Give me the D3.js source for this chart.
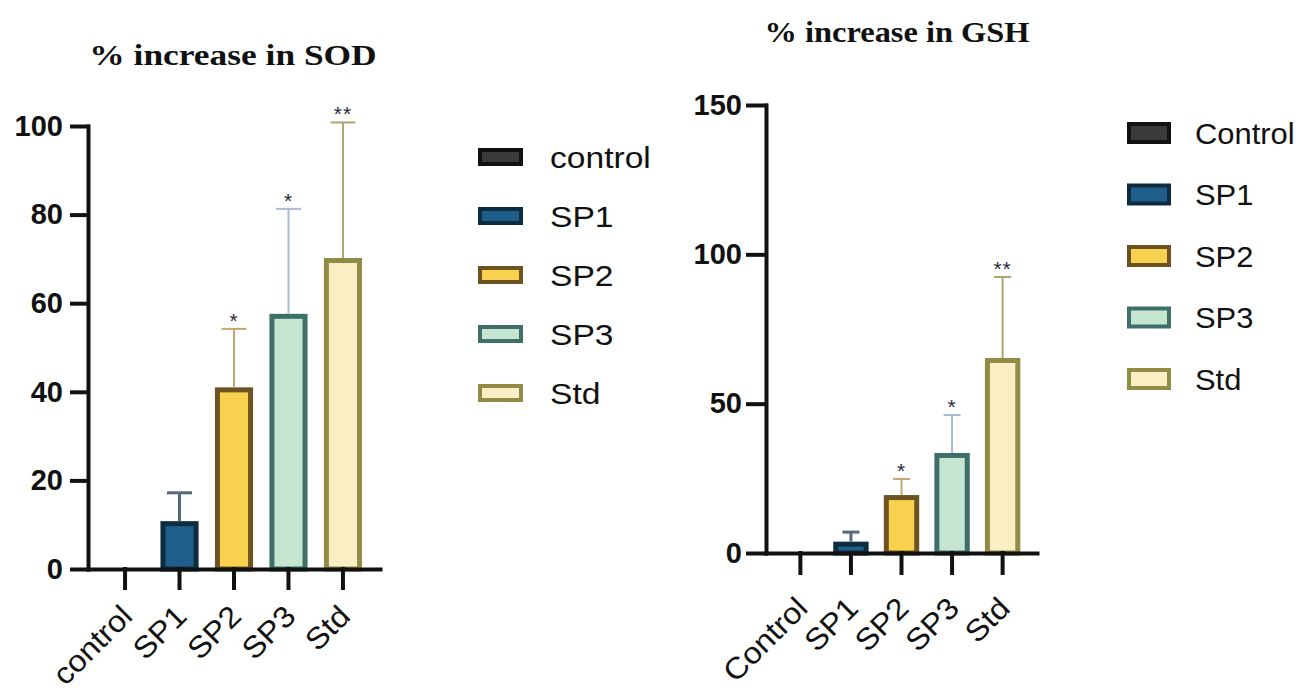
<!DOCTYPE html>
<html>
<head>
<meta charset="utf-8">
<script src="https://cdn.jsdelivr.net/npm/d3@7"></script>
<style>
  body { margin: 0; background: #fff; }
</style>
</head>
<body>
<script>
"use strict";

// values
const sodGroups = ["control", "SP1", "SP2", "SP3", "Std"];
const sodMean = [0, 10.8, 41, 57.6, 70.2];
const sodErr = [0, 6.4, 13.2, 23.7, 30.6];
const sodStars = ["", "", "*", "*", "**"];
const sodTicks = [0, 20, 40, 60, 80, 100];

const gshGroups = ["Control", "SP1", "SP2", "SP3", "Std"];
const gshMean = [0, 3.8, 19.4, 33.5, 65.3];
const gshErr = [0, 3.2, 5.4, 12.7, 27.1];
const gshStars = ["", "", "*", "*", "**"];
const gshTicks = [0, 50, 100, 150];

const fills = ["#3a3a3a", "#1f5e8a", "#f8d14f", "#c6e5d0", "#f9eec4"];
const strokes = ["#111111", "#0e2c40", "#6e5322", "#3f6f69", "#908b45"];
const whiskers = ["#444444", "#55687c", "#c3a774", "#a9bdd2", "#aca66c"];

const sans = "'Liberation Sans', Arial, sans-serif";
const serif = "'Liberation Serif', 'Times New Roman', serif";

const m = { width: 1302, height: 692 };

const svg = d3
  .select("body")
  .append("svg")
  .attr("width", m.width)
  .attr("height", m.height)
  .style("font-family", sans);

function panel(groups, mean, err, stars, ticks, p) {
  const g = svg.append("g");
  const rows = groups.map((k, i) => ({
    k: k, v: mean[i], e: err[i], s: stars[i], i: i
  }));

  const x = d3
    .scaleBand()
    .domain(groups)
    .range([p.x0, p.x1])
    .paddingInner(0.3)
    .paddingOuter(0.33);

  const y = d3
    .scaleLinear()
    .domain([0, d3.max(ticks)])
    .range([p.y0, p.y1]);

  const sw = 5;

  // bars
  g.selectAll("rect.bar")
    .data(rows.filter(d => d.v > 0))
    .enter()
    .append("rect")
    .attr("class", "bar")
    .attr("x", d => x(d.k) + sw / 2)
    .attr("width", x.bandwidth() - sw)
    .attr("y", d => y(d.v) + sw / 2)
    .attr("height", d => y(0) - y(d.v) - sw / 2)
    .attr("fill", d => fills[d.i])
    .attr("stroke", d => strokes[d.i])
    .attr("stroke-width", sw);

  // upper error bars
  const eb = g
    .selectAll("g.err")
    .data(rows.filter(d => d.e > 0))
    .enter()
    .append("g")
    .attr("stroke", d => whiskers[d.i])
    .attr("stroke-width", d => (d.i === 1 ? 3 : 2));

  eb.append("line")
    .attr("x1", d => x(d.k) + x.bandwidth() / 2)
    .attr("x2", d => x(d.k) + x.bandwidth() / 2)
    .attr("y1", d => y(d.v))
    .attr("y2", d => y(d.v + d.e));

  eb.append("line")
    .attr("x1", d => x(d.k) + x.bandwidth() / 2 - p.capW / 2)
    .attr("x2", d => x(d.k) + x.bandwidth() / 2 + p.capW / 2)
    .attr("y1", d => y(d.v + d.e))
    .attr("y2", d => y(d.v + d.e));

  // significance stars
  g.selectAll("text.star")
    .data(rows.filter(d => d.s))
    .enter()
    .append("text")
    .attr("x", d => x(d.k) + x.bandwidth() / 2)
    .attr("y", d => y(d.v + d.e) - 1)
    .attr("text-anchor", "middle")
    .attr("font-size", 21)
    .attr("letter-spacing", 1)
    .attr("fill", "#2a2a3a")
    .text(d => d.s);

  // axes
  const yAxis = g
    .append("g")
    .attr("transform", `translate(${p.x0},0)`)
    .call(
      d3.axisLeft(y)
        .tickValues(ticks)
        .tickSize(p.tickLen)
        .tickSizeOuter(0)
        .tickPadding(p.tickPad)
    );
  yAxis.selectAll("text")
    .style("font-size", "29px")
    .style("font-weight", "bold")
    .style("font-family", sans)
    .attr("fill", "#111");

  const xAxis = g
    .append("g")
    .attr("transform", `translate(0,${p.y0})`)
    .call(d3.axisBottom(x).tickSize(p.xTickLen).tickSizeOuter(0));
  xAxis.selectAll("text")
    .attr("x", 0)
    .attr("y", 0)
    .attr("dy", 0)
    .attr("text-anchor", "end")
    .attr("transform", `translate(${p.labelOff[0]},${p.labelOff[1]}) rotate(-45) scale(1.08,1)`)
    .style("font-size", "30px")
    .style("font-family", sans)
    .attr("fill", "#111");

  g.selectAll(".domain, .tick line")
    .attr("stroke", "#111")
    .attr("stroke-width", 4)
    .attr("stroke-linecap", "square");

  // title
  g.append("text")
    .attr("transform", `translate(${p.titleX},${p.titleY}) scale(${p.titleSX},1)`)
    .attr("text-anchor", "middle")
    .style("font-family", serif)
    .attr("font-weight", "bold")
    .attr("font-size", 30)
    .attr("fill", "#111")
    .text(p.title);

  // legend
  const lg = g
    .selectAll("g.leg")
    .data(rows)
    .enter()
    .append("g")
    .attr("transform", (d, i) => `translate(0,${p.legY + i * p.legStep})`);

  lg.append("rect")
    .attr("x", p.legX + 2)
    .attr("y", -p.swH / 2 + 2)
    .attr("width", p.swW - 4)
    .attr("height", p.swH - 4)
    .attr("fill", d => fills[d.i])
    .attr("stroke", d => strokes[d.i])
    .attr("stroke-width", 4);

  lg.append("text")
    .attr("transform", `translate(${p.legTextX},0) scale(${p.legSX},1)`)
    .attr("dy", "0.36em")
    .attr("font-size", 30)
    .attr("fill", "#111")
    .text(d => d.k);
}

panel(sodGroups, sodMean, sodErr, sodStars, sodTicks, {
  x0: 88, x1: 380, y0: 569, y1: 126,
  title: "% increase in SOD", titleX: 233, titleY: 65, titleSX: 1.18,
  tickLen: 16, tickPad: 9, xTickLen: 19, labelOff: [9, 49], capW: 25,
  legX: 478, legY: 157, legStep: 59, swW: 45, swH: 18,
  legTextX: 550, legSX: 1.12
});

panel(gshGroups, gshMean, gshErr, gshStars, gshTicks, {
  x0: 766, x1: 1037, y0: 553, y1: 105,
  title: "% increase in GSH", titleX: 897, titleY: 42, titleSX: 1.08,
  tickLen: 18, tickPad: 6, xTickLen: 20, labelOff: [9, 57], capW: 17,
  legX: 1127, legY: 133, legStep: 61.5, swW: 44, swH: 22,
  legTextX: 1195, legSX: 1.03
});
</script>
</body>
</html>
